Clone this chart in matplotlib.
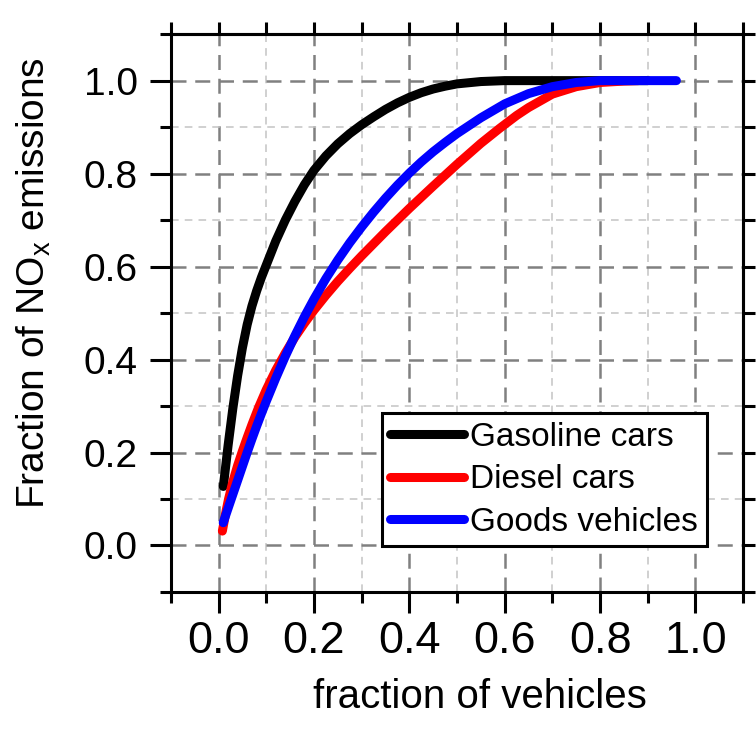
import numpy as np
import matplotlib.pyplot as plt
from matplotlib.ticker import MultipleLocator

plt.rcParams['font.family'] = ['Liberation Sans', 'DejaVu Sans']
plt.rcParams['mathtext.default'] = 'regular'

# cumulative curves
gas_x = [0.01, 0.02, 0.03, 0.04, 0.05, 0.06, 0.07, 0.08, 0.09, 0.1, 0.12, 0.14,
         0.16, 0.18, 0.2, 0.225, 0.25, 0.275, 0.3, 0.325, 0.35, 0.375, 0.4,
         0.425, 0.45, 0.475, 0.5, 0.55, 0.6, 0.7, 0.8, 0.9]
gas_y = [0.127, 0.215, 0.295, 0.365, 0.425, 0.475, 0.515, 0.548, 0.577, 0.603, 0.655, 0.70,
         0.74, 0.776, 0.807, 0.838, 0.864, 0.886, 0.905, 0.922, 0.938, 0.952, 0.964,
         0.974, 0.982, 0.988, 0.993, 0.998, 1.0, 1.0, 1.0, 1.0]

dsl_x = [0.008, 0.015, 0.021, 0.03, 0.04, 0.05, 0.06, 0.07, 0.084, 0.1, 0.12, 0.14,
         0.16, 0.18, 0.2, 0.225, 0.25, 0.275, 0.3, 0.35, 0.4, 0.45, 0.5,
         0.55, 0.589, 0.625, 0.65, 0.7, 0.75, 0.8, 0.85, 0.88]
dsl_y = [0.031, 0.07, 0.1, 0.137, 0.172, 0.203, 0.232, 0.26, 0.297, 0.335, 0.377, 0.414,
         0.448, 0.478, 0.506, 0.538, 0.568, 0.596, 0.623, 0.675, 0.725, 0.773, 0.82,
         0.865, 0.897, 0.925, 0.942, 0.971, 0.987, 0.996, 0.999, 1.0]

gds_x = [0.0098, 0.02, 0.03, 0.04, 0.05, 0.06, 0.07, 0.08, 0.09, 0.1, 0.12, 0.14,
         0.16, 0.18, 0.2, 0.225, 0.25, 0.275, 0.3, 0.325, 0.35, 0.375, 0.4, 0.425,
         0.45, 0.475, 0.5, 0.55, 0.6, 0.65, 0.7, 0.75, 0.8, 0.9, 0.96]
gds_y = [0.049, 0.08, 0.11, 0.14, 0.17, 0.2, 0.229, 0.257, 0.284, 0.31, 0.36, 0.407,
         0.451, 0.492, 0.53, 0.574, 0.614, 0.651, 0.685, 0.717, 0.747, 0.775, 0.801, 0.825,
         0.847, 0.867, 0.886, 0.92, 0.95, 0.972, 0.987, 0.996, 1.0, 1.0, 1.0]

fig = plt.figure(figsize=(7.56, 7.34), dpi=100)
ax = fig.add_axes([0.226, 0.1935, 0.757, 0.760])

lw = 6.5
ax.plot(gas_x, gas_y, color='black', lw=lw, solid_capstyle='round', label='Gasoline cars')
ax.plot(dsl_x, dsl_y, color='red', lw=lw, solid_capstyle='round', label='Diesel cars')
ax.plot(gds_x, gds_y, color='blue', lw=lw, solid_capstyle='round', label='Goods vehicles')

ax.set_xlim(-0.1, 1.1)
ax.set_ylim(-0.1, 1.1)
for a in (ax.xaxis, ax.yaxis):
    a.set_major_locator(MultipleLocator(0.2))
    a.set_minor_locator(MultipleLocator(0.1))

ax.grid(which='major', color='#808080', lw=1.8, linestyle=(0, (6, 3.5)))
ax.grid(which='minor', color='#c4c4c4', lw=1.1, linestyle=(0, (5, 4)))

for s in ax.spines.values():
    s.set_linewidth(2.2)

ax.tick_params(which='both', direction='out', width=2.2, top=False, right=False)
ax.tick_params(which='major', length=15)
ax.tick_params(which='minor', length=8)
ax.tick_params(axis='x', which='major', labelsize=32.5, pad=6)
ax.tick_params(axis='y', which='major', labelsize=28, pad=9)

# top / right: short ticks at every 0.1, no labels
top = ax.secondary_xaxis('top')
top.xaxis.set_major_locator(MultipleLocator(0.1))
top.tick_params(axis='x', length=8.5, width=2.2, direction='out', labeltop=False)
top.spines['top'].set_linewidth(2.2)
rgt = ax.secondary_yaxis('right')
rgt.yaxis.set_major_locator(MultipleLocator(0.1))
rgt.tick_params(axis='y', length=8.5, width=2.2, direction='out', labelright=False)
rgt.spines['right'].set_linewidth(2.2)

fig.text(0.019, 0.614, 'Fraction of NO$_\\mathregular{x}$ emissions', rotation=90,
         ha='left', va='center', fontsize=28)
fig.text(0.635, 0.036, 'fraction of vehicles', ha='center', va='baseline', fontsize=29)

leg = ax.legend(loc='lower left', bbox_to_anchor=(0.369, 0.082), fontsize=24,
                frameon=True, fancybox=False, edgecolor='black', framealpha=1,
                borderpad=0.25, handlelength=2.2, handletextpad=0.2,
                labelspacing=0.35, borderaxespad=0)
leg.get_frame().set_linewidth(2.2)

fig.savefig('out.png', dpi=100)
